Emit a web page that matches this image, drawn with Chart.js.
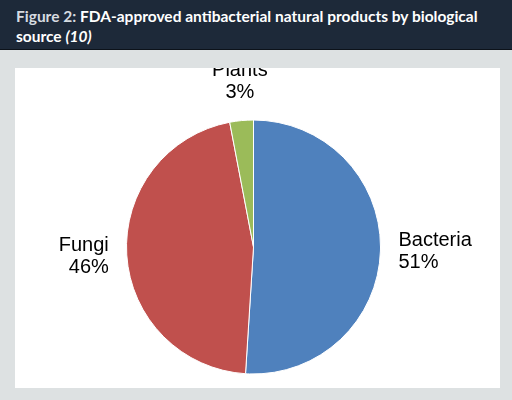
<!DOCTYPE html>
<html lang="en">
<head>
<meta charset="UTF-8" />
<title>FDA-approved antibacterial natural products</title>
<script src="https://cdn.jsdelivr.net/npm/chart.js"></script>
<style>
  body { margin:0; width:512px; height:400px; background:#dde1e2; font-family:Lato, sans-serif; overflow:hidden; }
  .header { background:#1d2939; height:50px; box-sizing:border-box; padding:6px 16px 0; border-bottom:1px solid #0c121a; color:#fff; font-weight:bold; font-size:15.5px; line-height:20px; }
  .header .fig { color:#d6dbe0; }
  .box { position:absolute; left:15px; top:68px; width:485px; height:320px; background:#fff; }
</style>
</head>
<body>
  <div class="header"><span class="fig">Figure 2:</span> FDA-approved antibacterial natural products by biological source <i>(10)</i></div>
  <div class="box"><canvas id="pie" width="485" height="320"></canvas></div>
  <script>
    const sources = ['Bacteria', 'Fungi', 'Plants'];
    const shares = [51, 46, 3];
    const colours = ['#4f81bd', '#c0504d', '#9bbb59'];

    // labels outside the slices, like the original office chart
    const outsideLabels = {
      id: 'outsideLabels',
      afterDatasetsDraw(chart) {
        const ctx = chart.ctx;
        ctx.save();
        ctx.font = '20px "Liberation Sans", Arial, sans-serif';
        ctx.fillStyle = '#000';
        chart.getDatasetMeta(0).data.forEach((arc, i) => {
          const p = arc.getProps(['x', 'y', 'startAngle', 'endAngle', 'outerRadius'], true);
          const a = (p.startAngle + p.endAngle) / 2;
          const r = p.outerRadius + 18;
          const x = p.x + Math.cos(a) * r, y = p.y + Math.sin(a) * r;
          const c = Math.cos(a);
          ctx.textAlign = c > 0.3 ? 'left' : c < -0.3 ? 'right' : 'center';
          const lines = [sources[i], shares[i] + '%'];
          let top = Math.sin(a) < -0.7 ? y - 42 : y - 21;
          lines.forEach((t, k) => {
            ctx.textBaseline = 'top';
            ctx.fillText(t, x, top + k * 22);
          });
        });
        ctx.restore();
      }
    };

    new Chart(document.getElementById('pie'), {
      type: 'pie',
      data: { labels: sources, datasets: [{ data: shares, backgroundColor: colours, borderColor: '#fff', borderWidth: 1 }] },
      options: {
        responsive: false,
        animation: false,
        radius: 127,
        layout: { padding: { top: 38, right: 8 } },
        plugins: { legend: { display: false }, tooltip: { enabled: false } }
      },
      plugins: [outsideLabels]
    });
  </script>
</body>
</html>
